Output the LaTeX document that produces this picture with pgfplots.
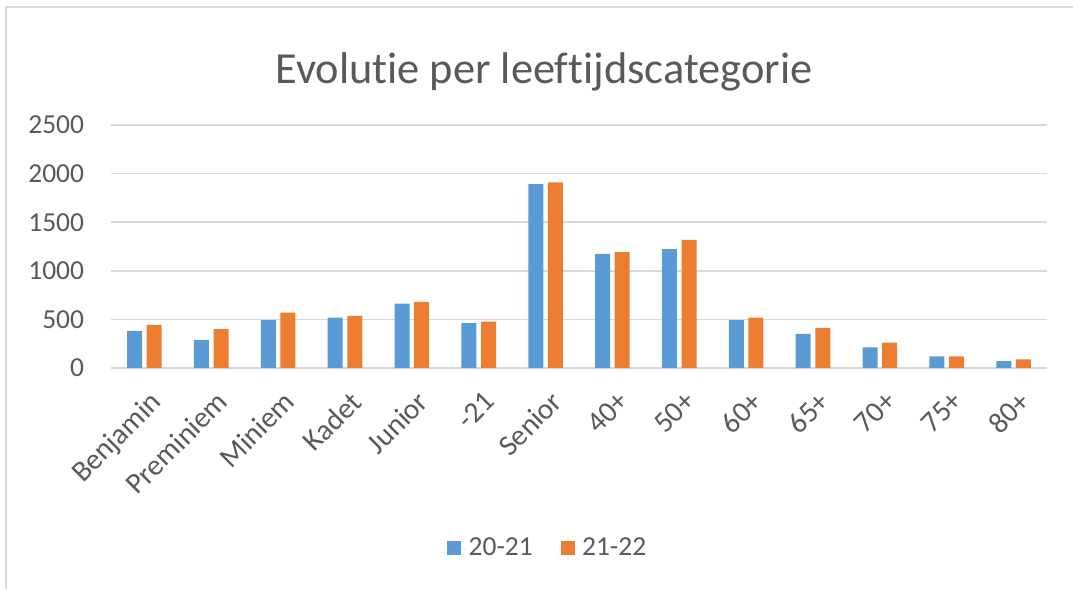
\documentclass[border=0pt]{standalone}
\usepackage{pgfplots}
\pgfplotsset{compat=1.18}
\usepackage{fontspec}
\setmainfont{Carlito}[Ligatures=NoCommon]
\definecolor{cblue}{HTML}{5B9BD5}
\definecolor{corange}{HTML}{ED7D31}
\definecolor{cgrid}{HTML}{D9D9D9}
\definecolor{ctext}{HTML}{595959}
\begin{document}
\begin{tikzpicture}
\path[use as bounding box] (0,0) rectangle (804.75pt,441.75pt);
\draw[cgrid, line width=1.5pt] (4.5pt,0) -- (4.5pt,436.5pt) -- (804.75pt,436.5pt);
\begin{axis}[
  at={(83.25pt,165.75pt)}, anchor=south west,
  scale only axis, width=702pt, height=182.25pt,
  xmin=-0.5, xmax=13.5, ymin=0, ymax=2500,
  axis line style={draw=none},
  ymajorgrids, grid style={cgrid, line width=1.1pt},
  ytick={0,500,1000,1500,2000,2500},
  xtick={0,...,13},
  xticklabels={Benjamin,Preminiem,Miniem,Kadet,Junior,-21,Senior,40+,50+,60+,65+,70+,75+,80+},
  major tick length=0pt,
  tick label style={text=ctext},
  /pgf/number format/assume math mode=true,
  /pgf/number format/1000 sep={},
  yticklabel style={font=\fontsize{20.6}{24}\selectfont, anchor=east, inner sep=0pt, xshift=-20pt},
  xticklabel style={font=\fontsize{22}{26}\selectfont, inner sep=0pt, yshift=-16pt, xshift=3pt, rotate=45, anchor=north east},
  ybar, bar width=11.25pt,
  legend columns=2,
  legend style={draw=none, at={(0.467,-0.741)}, anchor=center, font=\fontsize{20.6}{24}\selectfont, text=ctext,
    /tikz/every even column/.append style={column sep=19pt}},
  legend image code/.code={\fill[#1] (0pt,-5.25pt) rectangle (10.5pt,5.25pt); \path (0pt,0pt) -- (14pt,0pt);},
  clip=false,
]
\addplot[fill=cblue, draw=none, bar shift=-7.35pt] coordinates {
(0,382) (1,290) (2,492) (3,519) (4,663) (5,461) (6,1892) (7,1175) (8,1223) (9,492) (10,352) (11,212) (12,120) (13,72)};
\addplot[fill=corange, draw=none, bar shift=7.35pt] coordinates {
(0,444) (1,400) (2,570) (3,536) (4,680) (5,478) (6,1909) (7,1192) (8,1318) (9,519) (10,413) (11,260) (12,120) (13,89)};
\legend{20-21,21-22}
\node[anchor=base, font=\fontsize{33.3}{38}\selectfont, text=ctext] at (axis description cs:0.4626,1.169) {Evolutie per leeftijdscategorie};
\end{axis}
\end{tikzpicture}
\end{document}
